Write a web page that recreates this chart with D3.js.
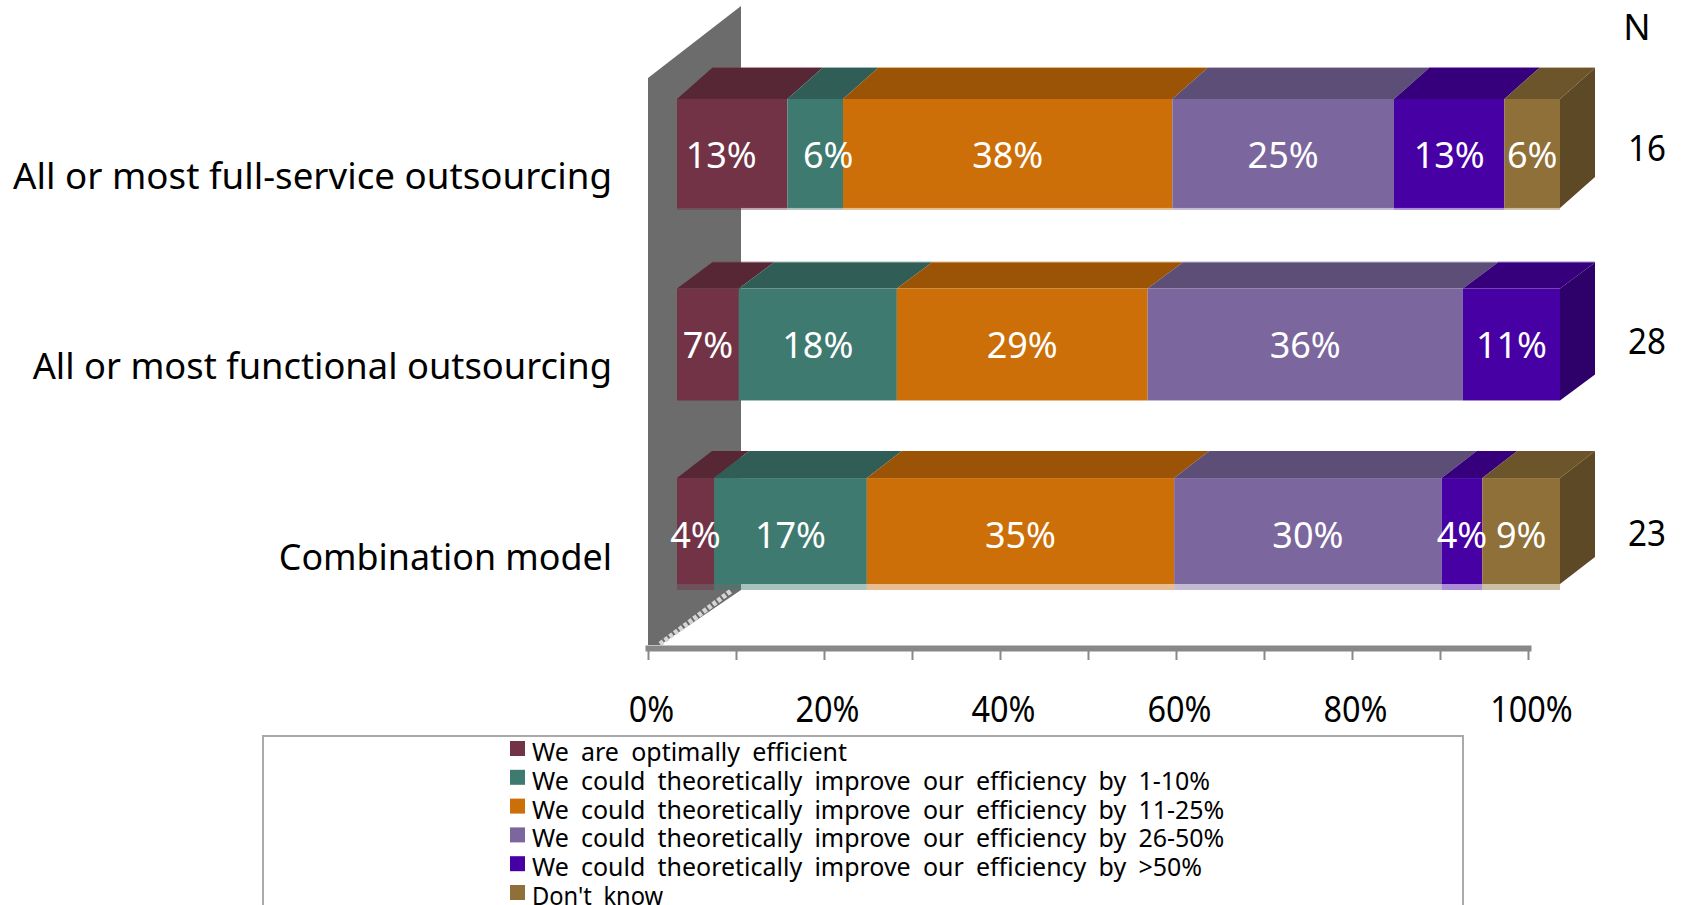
<!DOCTYPE html>
<html lang="en">
<head>
    <style>
        body { margin: 0; background: #fff; }
        svg { display: block; }
        text { font-family: "Noto Sans", sans-serif; }
    </style>
    <script src="https://d3js.org/d3.v7.min.js"></script>
</head>
<body>
    <svg id="chart" width="1684" height="905"></svg>

    <script>
        const categories = ["All or most full-service outsourcing", "All or most functional outsourcing", "Combination model"];
        const seriesNames = [
            "We are optimally efficient",
            "We could theoretically improve our efficiency by 1-10%",
            "We could theoretically improve our efficiency by 11-25%",
            "We could theoretically improve our efficiency by 26-50%",
            "We could theoretically improve our efficiency by >50%",
            "Don't know"
        ];
        const seriesColors = ["#723346", "#3f7a70", "#cc6f08", "#7b679e", "#4700a3", "#8f7038"];

        // segment lengths
        const fullService = [12.5, 6.3, 37.3, 25.1, 12.5, 6.3];
        const functional = [7.0, 17.9, 28.4, 35.7, 11.0, 0];
        const combination = [4.2, 17.3, 34.8, 30.3, 4.6, 8.8];
        const rows = [fullService, functional, combination];
        // percentages as printed on the bars
        const fullServiceLabels = [13, 6, 38, 25, 13, 6];
        const functionalLabels = [7, 18, 29, 36, 11, 0];
        const combinationLabels = [4, 17, 35, 30, 4, 9];
        const rowLabels = [fullServiceLabels, functionalLabels, combinationLabels];
        const respondents = [16, 28, 23];
        const axisTicks = [0, 10, 20, 30, 40, 50, 60, 70, 80, 90, 100];

        const svg = d3.select("#chart");

        const x = d3.scaleLinear().domain([0, 100]).range([677, 1560]);
        const xAxisScale = d3.scaleLinear().domain([0, 100]).range([648, 1528]);
        const y = d3.scaleBand().domain(categories).range([99, 587]).paddingInner(0.74 / 1.74);
        const nY = d3.scalePoint().domain(categories).range([161, 546]);
        const depthX = 35;
        // the original 3d bars are not quite regular
        const depthY = [-31, -26, -27];
        const heightFix = [0, 3, -3];
        const catSqueeze = [1.02, 1.008, 0.995];
        const catDrop = [90, 90, 92];

        // squeeze text horizontally, the original font is narrower
        function squeeze(sel, k) {
            sel.each(function (d, i) {
                const len = this.getComputedTextLength();
                const f = typeof k === "function" ? k(d, i) : k;
                d3.select(this).attr("textLength", len * f).attr("lengthAdjust", "spacingAndGlyphs");
            });
        }

        // back wall
        svg.append("path")
            .attr("d", "M648,78 L741,6 L741,590 L660,645 L648,645 Z")
            .attr("fill", "#6c6c6c");
        svg.append("path")
            .attr("d", "M660,644 L731,591")
            .attr("stroke", "#d5d5d5").attr("stroke-width", 5).attr("stroke-dasharray", "4 2").attr("fill", "none");

        // x axis
        const axis = d3.axisBottom(xAxisScale).tickValues(axisTicks).tickSize(12).tickSizeOuter(0).tickFormat(d => d % 20 === 0 ? d + "%" : "");
        const axisG = svg.append("g").attr("transform", "translate(0,648)").call(axis);
        axisG.select(".domain").attr("stroke", "#888").attr("stroke-width", 6).attr("stroke-linecap", "square");
        axisG.selectAll(".tick line").attr("stroke", "#888").attr("stroke-width", 2);
        axisG.selectAll(".tick text")
            .attr("y", 0).attr("dy", 0)
            .attr("transform", "translate(3,74)")
            .attr("fill", "#000").attr("font-size", 36)
            .call(squeeze, 0.9);

        // stacked 3d bars
        rows.forEach((values, r) => {
            const top = y(categories[r]);
            const h = y.bandwidth() + heightFix[r];
            const dy = depthY[r];
            const g = svg.append("g");
            const sums = d3.cumsum(values);
            const lastIdx = d3.max(values.map((v, i) => v > 0 ? i : -1));
            values.forEach((v, i) => {
                if (v === 0) return;
                const x0 = x(sums[i] - v), x1 = x(sums[i]);
                const c = d3.rgb(seriesColors[i]);
                // pale strip under the bar, none on the middle one
                if (r !== 1) {
                    g.append("rect").attr("x", x0).attr("y", top + h - 1).attr("width", x1 - x0).attr("height", r === 2 ? 7 : 3)
                        .attr("fill", c).attr("fill-opacity", 0.45);
                }
                // pale line along the back edge
                if (r !== 2) {
                    g.append("rect").attr("x", x0 + depthX).attr("y", top + dy - 1).attr("width", x1 - x0).attr("height", 2)
                        .attr("fill", c).attr("fill-opacity", 0.5);
                }
                g.append("path")
                    .attr("d", `M${x0},${top} L${x0 + depthX},${top + dy} L${x1 + depthX},${top + dy} L${x1},${top} Z`)
                    .attr("fill", c.darker(0.77));
                g.append("rect").attr("x", x0).attr("y", top).attr("width", x1 - x0).attr("height", h).attr("fill", c);
                if (i === lastIdx) {
                    g.append("path")
                        .attr("d", `M${x1},${top} L${x1 + depthX},${top + dy} L${x1 + depthX},${top + h + dy} L${x1},${top + h} Z`)
                        .attr("fill", c.darker(1.2));
                }
            });
        });

        // hand placed labels in the first bar
        const labelNudge = { "0-0": -11, "0-1": 13 };
        rows.forEach((values, r) => {
            const sums = d3.cumsum(values);
            values.forEach((v, i) => {
                if (v === 0) return;
                svg.append("text")
                    .attr("x", x(sums[i] - v / 2) + (labelNudge[r + "-" + i] || 0))
                    .attr("y", y(categories[r]) + y.bandwidth() / 2 + 15)
                    .attr("text-anchor", "middle")
                    .attr("fill", "#fff").attr("font-size", 36)
                    .text(rowLabels[r][i] + "%");
            });
        });

        // category labels
        svg.selectAll(".cat").data(categories).enter().append("text")
            .attr("class", "cat")
            .attr("x", 612)
            .attr("y", (d, i) => y(d) + catDrop[i])
            .attr("text-anchor", "end")
            .attr("font-size", 36)
            .text(d => d)
            .call(squeeze, (d, i) => catSqueeze[i]);

        // N column
        svg.append("text").attr("x", 1637).attr("y", 40).attr("text-anchor", "middle").attr("font-size", 36).text("N");
        svg.selectAll(".n").data(respondents).enter().append("text")
            .attr("class", "n")
            .attr("x", 1647)
            .attr("y", (d, i) => nY(categories[i]))
            .attr("text-anchor", "middle")
            .attr("font-size", 36)
            .text(d => d)
            .call(squeeze, 0.92);

        // legend, runs off the bottom of the picture
        svg.append("rect").attr("x", 263).attr("y", 736).attr("width", 1200).attr("height", 200)
            .attr("fill", "none").attr("stroke", "#aaa").attr("stroke-width", 2);
        const legendY = d3.scalePoint().domain(seriesNames).range([741, 885]);
        const legend = svg.selectAll(".legend").data(seriesNames).enter().append("g").attr("class", "legend");
        legend.append("rect").attr("x", 510).attr("y", d => legendY(d)).attr("width", 15).attr("height", 15)
            .attr("fill", (d, i) => seriesColors[i]);
        legend.append("text").attr("x", 532).attr("y", d => legendY(d) + 20)
            .attr("font-size", 26).style("word-spacing", "6px")
            .text(d => d)
            .call(squeeze, (d, i) => i === 5 ? 0.91 : 0.96);
    </script>
</body>
</html>
